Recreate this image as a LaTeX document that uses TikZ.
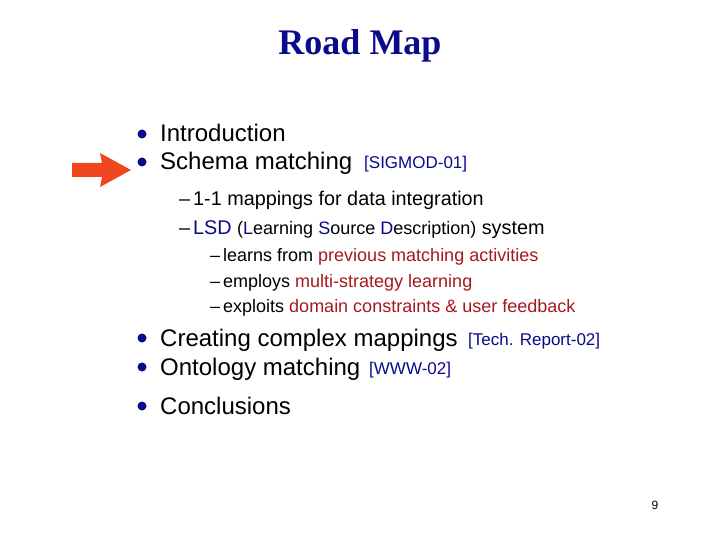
\documentclass[tikz,border=0pt]{standalone}
\usepackage{fontspec}
\setmainfont{Liberation Sans}
\newfontfamily\titlefont{Liberation Serif}
\definecolor{dblue}{RGB}{10,10,140}
\definecolor{dred}{RGB}{165,25,30}
\definecolor{arrowred}{RGB}{240,70,30}
\begin{document}
\begin{tikzpicture}[x=1pt,y=-1pt,
  lone/.style={anchor=base west,font=\fontsize{24}{27}\selectfont,inner sep=0},
  ltwo/.style={anchor=base west,font=\fontsize{19.8}{22}\selectfont,inner sep=0},
  lthree/.style={anchor=base west,font=\fontsize{18}{20}\selectfont,inner sep=0},
  refs/.style={anchor=base west,font=\fontsize{17}{19}\selectfont,inner sep=0,text=dblue},
  dot/.style={circle,fill=dblue,inner sep=0,minimum size=9pt}]
\useasboundingbox (0,0) rectangle (720,540);
\fill[white] (0,0) rectangle (720,540);
\node[font=\titlefont\bfseries\fontsize{36}{40}\selectfont,text=dblue] (title) at (360,46) {Road Map};
\fill[arrowred] (72,163) -- (102,163) -- (100,153) -- (131,170) -- (100,187) -- (102,177) -- (72,177) -- cycle;
\foreach \n/\y in {b1/134,b2/162,b3/338,b4/367,b5/406} \node[dot] (\n) at (142,\y) {};
\node[lone] (t1) at (160,142) {Introduction};
\node[lone] (t2) at (160,170) {Schema matching};
\node[refs] (r2) at (364,169) {[SIGMOD-01]};
\node[ltwo] (d1) at (179,206) {--};
\node[ltwo] (s1) at (193,206) {1-1 mappings for data integration};
\node[ltwo] (d2) at (179,235) {--};
\node[ltwo] (s2) at (193,235) {\textcolor{dblue}{LSD} {\fontsize{18}{20}\selectfont(\textcolor{dblue}{L}earning \textcolor{dblue}{S}ource \textcolor{dblue}{D}escription)} system};
\node[lthree] (d3) at (210,261) {--};
\node[lthree] (u1) at (223,261) {learns from \textcolor{dred}{previous matching activities}};
\node[lthree] (d4) at (210,287) {--};
\node[lthree] (u2) at (223,287) {employs \textcolor{dred}{multi-strategy learning}};
\node[lthree] (d5) at (210,312) {--};
\node[lthree] (u3) at (223,312) {exploits \textcolor{dred}{domain constraints \& user feedback}};
\node[lone] (t3) at (160,346) {Creating complex mappings};
\node[refs] (r3) at (468,345) {[Tech. Report-02]};
\node[lone] (t4) at (160,375) {Ontology matching};
\node[refs] (r4) at (369,374) {[WWW-02]};
\node[lone] (t5) at (160,414) {Conclusions};
\node[anchor=base,font=\fontsize{12}{14}\selectfont,inner sep=0] (pg) at (655,509) {9};
\end{tikzpicture}
\end{document}
